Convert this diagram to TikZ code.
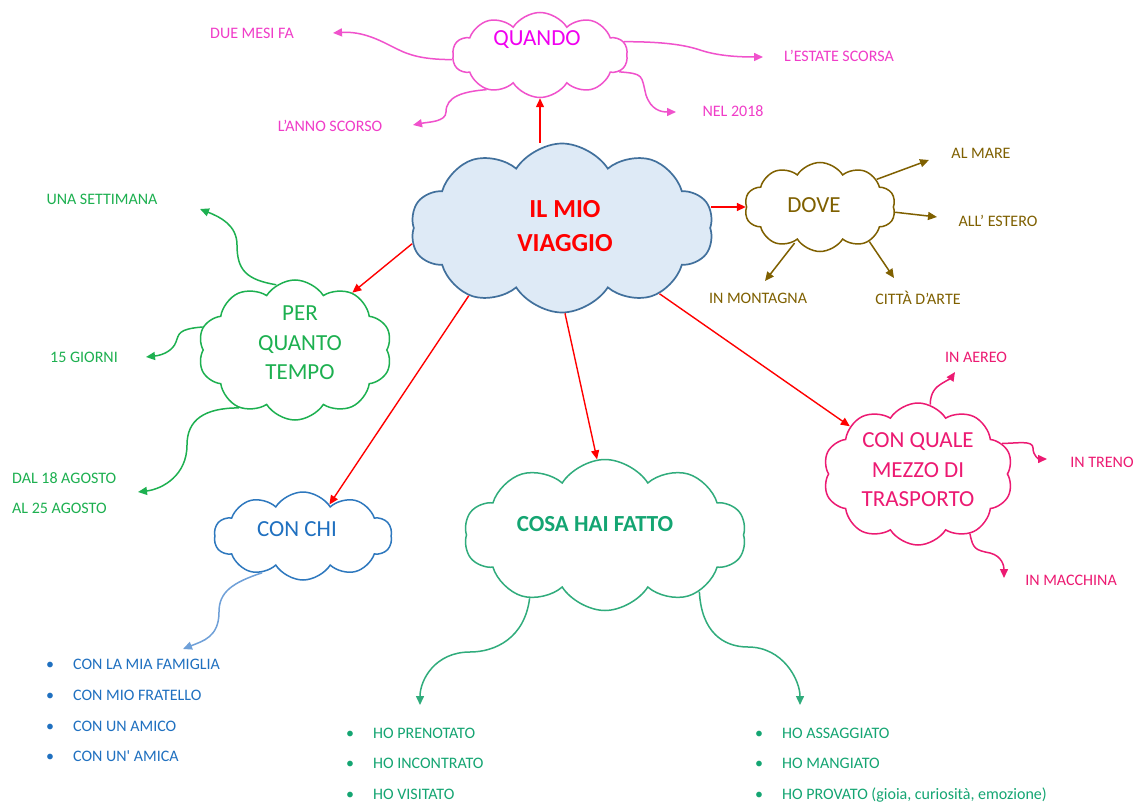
\documentclass[tikz,border=0pt]{standalone}
\usepackage{fontspec}
\setmainfont{Carlito}
\usetikzlibrary{shapes.symbols,arrows.meta,calc}
\definecolor{qtext}{HTML}{F000F0}
\definecolor{qline}{HTML}{F052CC}
\definecolor{qlab}{HTML}{F03CC8}
\definecolor{mainfill}{HTML}{DEEAF6}
\definecolor{mainline}{HTML}{41709C}
\definecolor{redc}{HTML}{FF0000}
\definecolor{dcol}{HTML}{7F6000}
\definecolor{gcol}{HTML}{1DB050}
\definecolor{bcol}{HTML}{1F70C0}
\definecolor{bline}{HTML}{2E78BE}
\definecolor{barr}{HTML}{6FA0D8}
\definecolor{hcol}{HTML}{14A572}
\definecolor{hline}{HTML}{30AC7C}
\definecolor{mcol}{HTML}{EC1A72}
\begin{document}
\begin{tikzpicture}[x=1pt,y=-1pt,
  cl/.style={cloud, cloud puffs=10, cloud puff arc=115, cloud ignores aspect, draw, line width=1.5pt, fill=white, inner sep=0pt},
  lbl/.style={font=\fontsize{16}{19}\selectfont, inner sep=0pt},
  ctext/.style={font=\fontsize{23}{29.5}\selectfont, align=center, inner sep=0pt},
  tipst/.style={-{Triangle[length=9pt,width=8pt]}},
  redarr/.style={draw=redc, line width=1.4pt, tipst},
  curv/.style={line width=1.5pt, tipst},
  bul/.style={lbl, anchor=base west},
]
\useasboundingbox[fill=white] (0,0) rectangle (1137,805);

% ---------- clouds ----------
\node[cl, draw=mainline, fill=mainfill, line width=1.7pt, minimum width=303pt, minimum height=169pt] (mainc) at (562,228) {};
\node[font=\bfseries\fontsize{26}{34}\selectfont, text=redc, align=center, inner sep=0pt] (maint) at (565,226) {IL MIO\\VIAGGIO};

\node[cl, draw=qline, minimum width=175pt, minimum height=85pt] (qc) at (540,55) {};
\node[ctext, text=qtext] (qt) at (537,40) {QUANDO};

\node[cl, draw=dcol, minimum width=151pt, minimum height=89pt] (dc) at (820,207) {};
\node[ctext, text=dcol] (dt) at (814,205) {DOVE};

\node[cl, draw=gcol, minimum width=194pt, minimum height=140pt] (pc) at (295,350) {};
\node[ctext, text=gcol] (pt) at (300,343) {PER\\QUANTO\\TEMPO};

\node[cl, draw=bline, minimum width=178pt, minimum height=88pt] (cc) at (303,536) {};
\node[ctext, text=bcol] (ct) at (297,529) {CON CHI};

\node[cl, draw=hline, minimum width=282pt, minimum height=151pt] (hc) at (605,535) {};
\node[ctext, font=\bfseries\fontsize{23}{29.5}\selectfont, text=hcol] (ht) at (595,524) {COSA HAI FATTO};

\node[cl, draw=mcol, minimum width=190pt, minimum height=142pt] (mc) at (918,474) {};
\node[ctext, text=mcol] (mt) at (918,470) {CON QUALE\\MEZZO DI\\TRASPORTO};

% ---------- red connectors ----------
\draw[redarr] (qc.south |- mainc.north) -- (qc.south);
\draw[redarr] (mainc.east |- dc.west) -- (dc.west);
\draw[redarr] (mainc.186) -- (pc.45);
\draw[redarr] (mainc.216) -- (cc.50);
\draw[redarr] (mainc.272) -- (hc.96);
\draw[redarr] (mainc.326) -- (mc.145);

% ---------- QUANDO ----------
\node[lbl, text=qlab] (q1) at (252,33) {DUE MESI FA};
\node[lbl, text=qlab] (q2) at (839,56) {L’ESTATE SCORSA};
\node[lbl, text=qlab] (q3) at (330,126) {L’ANNO SCORSO};
\node[lbl, text=qlab] (q4) at (733,111) {NEL 2018};
\coordinate (tq1) at (333,33);
\coordinate (tq2) at (763,57);
\coordinate (tq3) at (413,125);
\coordinate (tq4) at (676,112);
\draw[curv, qline] (qc.183) .. controls +(-35,0) and +(12,6) .. (393,47) .. controls +(-12,-6) and +(30,-2) .. (tq1);
\draw[curv, qline] (qc.9) .. controls +(40,0) and +(-15,-5) .. (700,50) .. controls +(15,5) and +(-30,0) .. (tq2);
\draw[curv, qline] (qc.213) .. controls +(-25,2) and +(0,-15) .. (446,112) .. controls +(0,10) and +(15,-3) .. (tq3);
\draw[curv, qline] (qc.348) .. controls +(25,2) and +(-5,-20) .. (646,95) .. controls +(5,15) and +(-15,0) .. (tq4);

% ---------- DOVE ----------
\node[lbl, text=dcol] (d1) at (981,153) {AL MARE};
\node[lbl, text=dcol] (d2) at (998,221) {ALL’ ESTERO};
\node[lbl, text=dcol] (d3) at (758,298) {IN MONTAGNA};
\node[lbl, text=dcol] (d4) at (918,298) {CITTÀ D’ARTE};
\coordinate (td1) at (929,160);
\coordinate (td2) at (937,217);
\coordinate (td3) at (765,281);
\coordinate (td4) at (894,278);
\draw[curv, dcol] (dc.26) -- (td1);
\draw[curv, dcol] (dc.356) -- (td2);
\draw[curv, dcol, shorten <=3pt] (dc.235) -- (td3);
\draw[curv, dcol] (dc.325) -- (td4);

% ---------- PER QUANTO TEMPO ----------
\node[lbl, text=gcol] (p1) at (102,199) {UNA SETTIMANA};
\node[lbl, text=gcol] (p2) at (84,357) {15 GIORNI};
\node[lbl, text=gcol, anchor=base west] (p3) at (12,483) {DAL 18 AGOSTO};
\node[lbl, text=gcol, anchor=base west] (p4) at (12,513) {AL 25 AGOSTO};
\coordinate (tp1) at (200,209);
\coordinate (tp2) at (146,357);
\coordinate (tp3) at (138,492);
\draw[curv, gcol] (pc.106) .. controls +(-30,-5) and +(0,25) .. (237,245) .. controls +(0,-20) and +(20,8) .. (tp1);
\draw[curv, gcol] (pc.166) .. controls +(-25,2) and +(3,-8) .. (176,342) .. controls +(-3,8) and +(18,-2) .. (tp2);
\draw[curv, gcol] (pc.226) .. controls +(-35,0) and +(0,-25) .. (187,445) .. controls +(0,30) and +(25,-3) .. (tp3);

% ---------- CON CHI ----------
\coordinate (tc1) at (183,649);
\draw[curv, barr] (cc.222) .. controls +(-30,10) and +(0,-20) .. (219,612) .. controls +(0,25) and +(20,-8) .. (tc1);
\node[bul, text=bcol] (c1) at (46,669.5) {\makebox[27pt][l]{•}CON LA MIA FAMIGLIA};
\node[bul, text=bcol] (c2) at (46,700.5) {\makebox[27pt][l]{•}CON MIO FRATELLO};
\node[bul, text=bcol] (c3) at (46,731.5) {\makebox[27pt][l]{•}CON UN AMICO};
\node[bul, text=bcol] (c4) at (46,761.5) {\makebox[27pt][l]{•}CON UN\textquotesingle{} AMICA};

% ---------- COSA HAI FATTO ----------
\coordinate (th1) at (420,705);
\coordinate (th2) at (800,705);
\draw[curv, hline] (hc.220) .. controls +(-5,40) and +(25,0) .. (470,652) .. controls +(-35,0) and +(0,-25) .. (th1);
\draw[curv, hline] (hc.329) .. controls +(2,40) and +(-25,0) .. (748,647) .. controls +(35,0) and +(0,-25) .. (th2);
\node[bul, text=hcol] (h1) at (346,738.5) {\makebox[27pt][l]{•}HO PRENOTATO};
\node[bul, text=hcol] (h2) at (346,768.5) {\makebox[27pt][l]{•}HO INCONTRATO};
\node[bul, text=hcol] (h3) at (346,799.5) {\makebox[27pt][l]{•}HO VISITATO};
\node[bul, text=hcol] (h4) at (755,738.5) {\makebox[27pt][l]{•}HO ASSAGGIATO};
\node[bul, text=hcol] (h5) at (755,768.5) {\makebox[27pt][l]{•}HO MANGIATO};
\node[bul, text=hcol] (h6) at (755,799.5) {\makebox[27pt][l]{•}HO PROVATO (gioia, curiosità, emozione)};

% ---------- TRASPORTO ----------
\node[lbl, text=mcol] (m1) at (976,357) {IN AEREO};
\node[lbl, text=mcol] (m2) at (1102,462) {IN TRENO};
\node[lbl, text=mcol] (m3) at (1071,580) {IN MACCHINA};
\coordinate (tm1) at (955,372);
\coordinate (tm2) at (1047,459);
\coordinate (tm3) at (1004,578);
\draw[curv, mcol] (mc.80) .. controls +(0,-12) and +(-5,3) .. (941,384) .. controls +(5,-3) and +(-4,6) .. (tm1);
\draw[curv, mcol] (mc.20) .. controls +(15,0) and +(0,-8) .. (1033,448) .. controls +(0,8) and +(-8,0) .. (tm2);
\draw[curv, mcol] (mc.311) .. controls +(3,15) and +(-15,-3) .. (990,553) .. controls +(12,3) and +(0,-12) .. (tm3);
\end{tikzpicture}
\end{document}
